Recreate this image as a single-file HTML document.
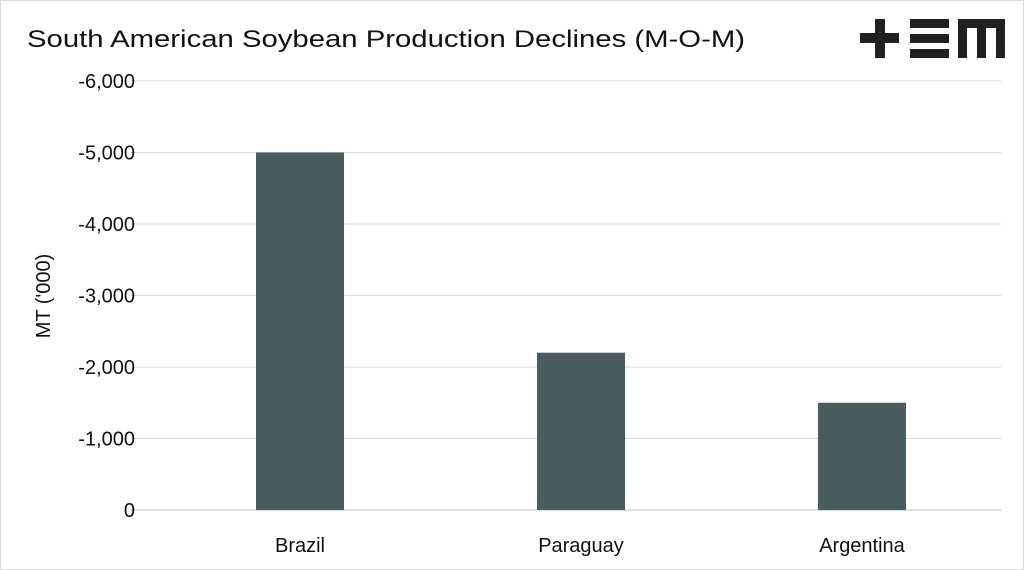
<!DOCTYPE html>
<html><head><meta charset="utf-8"><style>
body{margin:0;background:#fff;}
#wrap{position:relative;width:1022px;height:568px;border:1px solid #d9d9d9;overflow:hidden;font-family:"Liberation Sans",sans-serif;}
</style></head><body>
<div id="wrap">
<svg id="chart" width="1022" height="568">
<text x="26" y="46" font-size="24" fill="#111" textLength="718" lengthAdjust="spacingAndGlyphs">South American Soybean Production Declines (M-O-M)</text>
<g fill="#231f20">
<rect x="859" y="32" width="39" height="10"/><rect x="874" y="18" width="10" height="39"/>
<rect x="909" y="18" width="39" height="9"/><rect x="909" y="33" width="39" height="9"/><rect x="909" y="48" width="39" height="9"/>
<rect x="957" y="18" width="47" height="9"/><rect x="957" y="18" width="9" height="39"/><rect x="976" y="18" width="9" height="39"/><rect x="995" y="18" width="9" height="39"/>
</g>
<text transform="translate(49,295) rotate(-90)" text-anchor="middle" font-size="20" fill="#111">MT ('000)</text>
<g id="grid"></g><g id="bars"></g><g id="labels"></g>
</svg>
</div>
<script>
const categories=["Brazil","Paraguay","Argentina"];
const values=[-5000,-2200,-1500];
const ticks=[0,-1000,-2000,-3000,-4000,-5000,-6000];
const tickLabels=["0","-1,000","-2,000","-3,000","-4,000","-5,000","-6,000"];
const ns="http://www.w3.org/2000/svg";
const y0=509,pxPer=71.5/1000,x0=158.5,band=281,bw=88;
const y=v=>y0+v*pxPer;
const g=document.getElementById('grid'),b=document.getElementById('bars'),l=document.getElementById('labels');
ticks.forEach((t,i)=>{
 const ln=document.createElementNS(ns,'line');
 ln.setAttribute('x1',130);ln.setAttribute('x2',1000);ln.setAttribute('y1',y(t));ln.setAttribute('y2',y(t));
 ln.setAttribute('stroke',i===0?'#bfbfbf':'#d9d9d9');ln.setAttribute('stroke-width',1);
 
 
 g.appendChild(ln);
 const tx=document.createElementNS(ns,'text');
 tx.setAttribute('x',134);tx.setAttribute('y',y(t)+7);tx.setAttribute('text-anchor','end');
 tx.setAttribute('font-size','20');tx.setAttribute('fill','#111');tx.textContent=tickLabels[i];
 
 
 l.appendChild(tx);
});
categories.forEach((c,i)=>{
 const cx=x0+band*(i+0.5);
 const r=document.createElementNS(ns,'rect');
 r.setAttribute('x',cx-bw/2);r.setAttribute('width',bw);
 r.setAttribute('y',y(values[i]));r.setAttribute('height',y0-y(values[i]));
 r.setAttribute('fill','#4a5d5e');
 
 
 b.appendChild(r);
 const tx=document.createElementNS(ns,'text');
 tx.setAttribute('x',cx);tx.setAttribute('y',551);tx.setAttribute('text-anchor','middle');
 tx.setAttribute('font-size','20');tx.setAttribute('fill','#111');tx.textContent=c;
 
 
 l.appendChild(tx);
});
</script>
</body></html>
